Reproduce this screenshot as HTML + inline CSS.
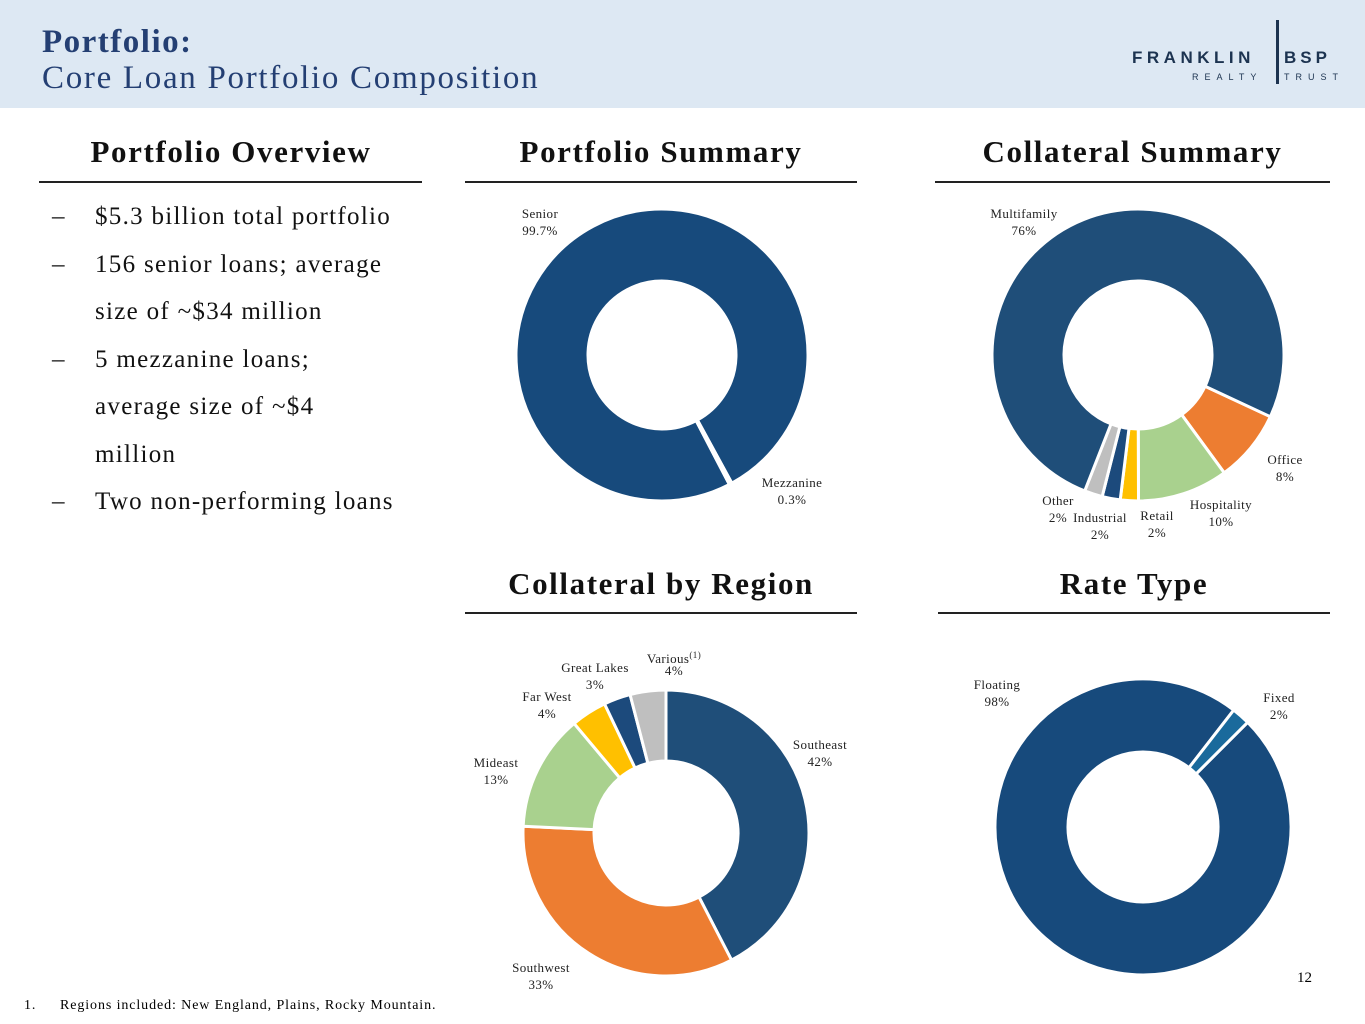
<!DOCTYPE html>
<html><head><meta charset="utf-8"><style>
body{margin:0;width:1365px;height:1024px;position:relative;background:#fff;font-family:"Liberation Serif",serif;overflow:hidden}
.hdr{position:absolute;left:0;top:0;width:1365px;height:108px;background:#dde8f3}
.t1{position:absolute;left:42px;top:24px;font-size:33px;font-weight:bold;color:#243f73;letter-spacing:1.5px}
.t2{position:absolute;left:42px;top:60px;font-size:33px;color:#243f73;letter-spacing:1.7px}
.sec{position:absolute;font-size:31px;font-weight:bold;color:#111;text-align:center;letter-spacing:1.6px}
.rule{position:absolute;height:2px;background:#222}
.bul{position:absolute;left:52px;font-size:25px;color:#111;line-height:47.5px;top:193px;letter-spacing:1.3px}
.bul div{position:relative;padding-left:43px}
.bul span{position:absolute;left:0}
.lbl{font-family:"Liberation Serif",serif;font-size:13px;fill:#222;text-anchor:middle;letter-spacing:0.4px}
</style></head><body>
<div class="hdr"></div>
<div class="t1">Portfolio:</div>
<div class="t2">Core Loan Portfolio Composition</div>
<div style="position:absolute;left:1130px;top:20px;width:220px;height:70px;color:#1c3350;font-family:'Liberation Sans',sans-serif">
<div style="position:absolute;left:2px;top:28px;font-size:17px;font-weight:bold;letter-spacing:4.5px">FRANKLIN</div>
<div style="position:absolute;left:146px;top:0;width:3px;height:64px;background:#1c3350"></div>
<div style="position:absolute;left:154px;top:28px;font-size:17px;font-weight:bold;letter-spacing:4px">BSP</div>
<div style="position:absolute;left:62px;top:52px;font-size:9px;letter-spacing:6px">REALTY</div>
<div style="position:absolute;left:154px;top:52px;font-size:9px;letter-spacing:6px">TRUST</div>
</div>

<div class="sec" style="left:40px;width:382px;top:134px">Portfolio Overview</div>
<div class="rule" style="left:39px;width:383px;top:181px"></div>
<div class="sec" style="left:465px;width:392px;top:134px">Portfolio Summary</div>
<div class="rule" style="left:465px;width:392px;top:181px"></div>
<div class="sec" style="left:935px;width:395px;top:134px">Collateral Summary</div>
<div class="rule" style="left:935px;width:395px;top:181px"></div>
<div class="sec" style="left:465px;width:392px;top:566px">Collateral by Region</div>
<div class="rule" style="left:465px;width:392px;top:612px"></div>
<div class="sec" style="left:938px;width:392px;top:566px">Rate Type</div>
<div class="rule" style="left:938px;width:392px;top:612px"></div>

<div class="bul">
<div><span>–</span>$5.3 billion total portfolio</div>
<div><span>–</span>156 senior loans; average<br>size of ~$34 million</div>
<div><span>–</span>5 mezzanine loans;<br>average size of ~$4<br>million</div>
<div><span>–</span>Two non-performing loans</div>
</div>

<svg id="ch" width="1365" height="1024" style="position:absolute;left:0;top:0"></svg>

<div style="position:absolute;left:1297px;top:970px;font-size:15px">12</div>
<div style="position:absolute;left:24px;top:998px;font-size:14px;letter-spacing:0.9px">1.<span style="position:absolute;left:36px;white-space:nowrap">Regions included: New England, Plains, Rocky Mountain.</span></div>

<script>
const summaryCats=["Senior","Mezzanine"];
const summaryVals=[99.7,0.3];
const collCats=["Office","Hospitality","Retail","Industrial","Other","Multifamily"];
const collVals=[8,10,2,2,2,76];
const regionCats=["Southeast","Southwest","Mideast","Far West","Great Lakes","Various"];
const regionVals=[42,33,13,4,3,4];
const rateCats=["Floating","Fixed"];
const rateVals=[98,2];
const svg=document.getElementById('ch');
const NS='http://www.w3.org/2000/svg';
function pt(cx,cy,r,a){const t=(a-90)*Math.PI/180;return [cx+r*Math.cos(t),cy+r*Math.sin(t)];}
function donut(name,cats,vals,cx,cy,R,r,start,colors){
  const tot=vals.reduce((a,b)=>a+b,0);let a=start;
  vals.forEach((v,i)=>{
    const sw=v/tot*360;const a2=a+sw;const lg=sw>180?1:0;
    const p1=pt(cx,cy,R,a),p2=pt(cx,cy,R,a2),p3=pt(cx,cy,r,a2),p4=pt(cx,cy,r,a);
    const p=document.createElementNS(NS,'path');
    p.setAttribute('d',`M${p1[0]},${p1[1]}A${R},${R} 0 ${lg} 1 ${p2[0]},${p2[1]}L${p3[0]},${p3[1]}A${r},${r} 0 ${lg} 0 ${p4[0]},${p4[1]}Z`);
    p.setAttribute('fill',colors[i]);p.setAttribute('stroke','#fff');p.setAttribute('stroke-width','3');
    
    
    svg.appendChild(p);a=a2;
  });
}
function label(name,x,y,l1,l2){
  const t=document.createElementNS(NS,'text');t.setAttribute('class','lbl');t.setAttribute('x',x);t.setAttribute('y',y);
  t.innerHTML=`<tspan x="${x}">${l1}</tspan><tspan x="${x}" dy="17">${l2}</tspan>`;
  
  
  svg.appendChild(t);
}
donut('summary',summaryCats,summaryVals,662,355,146,74,152.5,['#174a7c','#174a7c']);
donut('collateral',collCats,collVals,1138,355,146,74,115,['#ed7d31','#a9d18e','#ffc000','#1c4a7c','#bfbfbf','#1f4e79']);
donut('region',regionCats,regionVals,666,833,143,72,0,['#1f4e79','#ed7d31','#a9d18e','#ffc000','#1c4a7c','#bfbfbf']);
donut('rate',rateCats,rateVals,1143,827,148,75,45,['#174a7c','#1a6a9c']);
label('label-senior',540,218,summaryCats[0],summaryVals[0]+'%');
label('label-mezzanine',792,487,summaryCats[1],summaryVals[1]+'%');
label('label-multifamily',1024,218,collCats[5],collVals[5]+'%');
label('label-office',1285,464,collCats[0],collVals[0]+'%');
label('label-hospitality',1221,509,collCats[1],collVals[1]+'%');
label('label-retail',1157,520,collCats[2],collVals[2]+'%');
label('label-industrial',1100,522,collCats[3],collVals[3]+'%');
label('label-other',1058,505,collCats[4],collVals[4]+'%');
label('label-southeast',820,749,regionCats[0],regionVals[0]+'%');
label('label-southwest',541,972,regionCats[1],regionVals[1]+'%');
label('label-mideast',496,767,regionCats[2],regionVals[2]+'%');
label('label-farwest',547,701,regionCats[3],regionVals[3]+'%');
label('label-greatlakes',595,672,regionCats[4],regionVals[4]+'%');
label('label-various',674,663,regionCats[5]+'<tspan dy="-5" font-size="9">(1)</tspan><tspan dy="5"></tspan>',regionVals[5]+'%');
label('label-floating',997,689,rateCats[0],rateVals[0]+'%');
label('label-fixed',1279,702,rateCats[1],rateVals[1]+'%');
</script>
</body></html>
